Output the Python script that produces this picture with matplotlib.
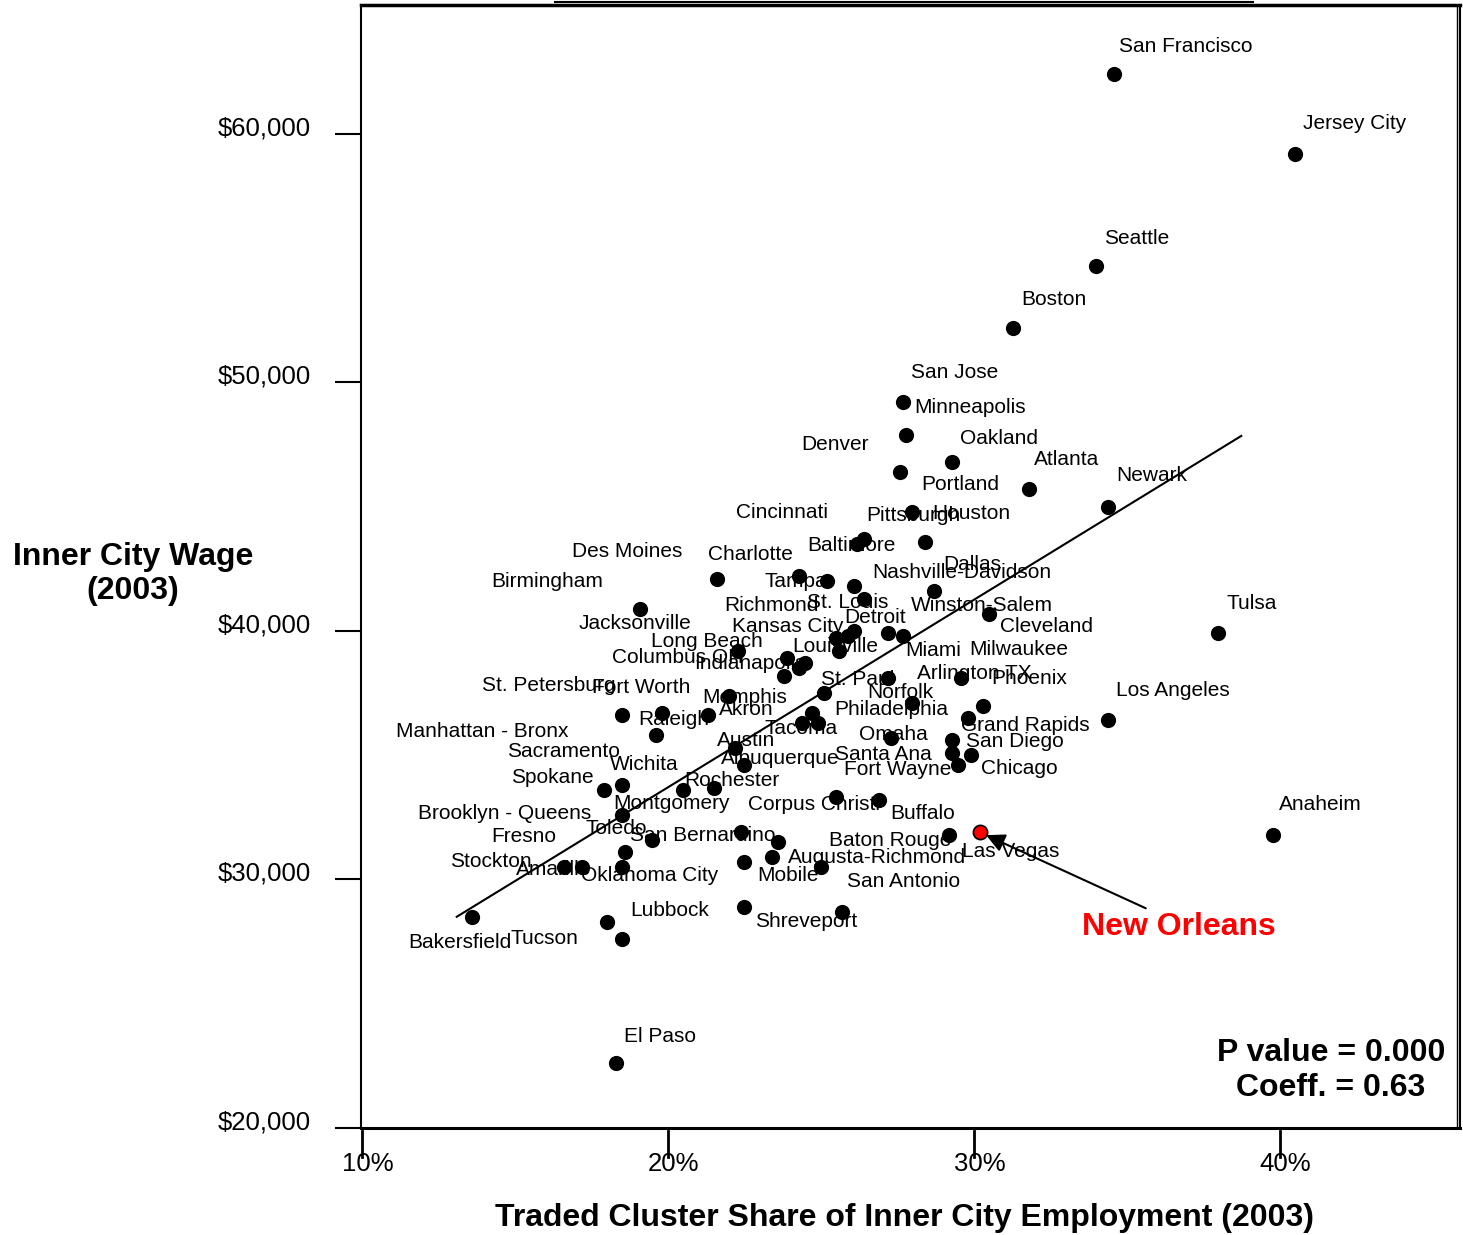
import matplotlib.pyplot as plt
from matplotlib.ticker import FuncFormatter, FixedLocator
from matplotlib.transforms import ScaledTranslation, blended_transform_factory
from matplotlib.lines import Line2D

plt.rcParams['font.family'] = ['Liberation Sans', 'DejaVu Sans']

# Inner city data (2003)
cities = [
    "San Francisco", "Jersey City", "Seattle", "Boston", "San Jose", "Minneapolis", "Denver", "Oakland", "Atlanta", "Portland",
    "Newark", "Houston", "Pittsburgh", "Cincinnati", "Baltimore", "Des Moines", "Birmingham", "Charlotte", "Tampa", "Dallas",
    "Nashville-Davidson", "St. Louis", "Richmond", "Winston-Salem", "Tulsa", "Detroit", "Cleveland", "Kansas City", "Long Beach", "Louisville",
    "Jacksonville", "Columbus OH", "Indianapolis", "Milwaukee", "Miami", "Norfolk", "Arlington TX", "Phoenix", "St. Paul", "Los Angeles",
    "Philadelphia", "Tacoma", "Memphis", "Akron", "St. Petersburg", "Fort Worth", "Raleigh", "Omaha", "Austin", "Albuquerque",
    "Grand Rapids", "San Diego", "Chicago", "Fort Wayne", "Santa Ana", "Manhattan - Bronx", "Sacramento", "Wichita", "Spokane", "Rochester",
    "Montgomery", "Brooklyn - Queens", "Toledo", "San Bernardino", "Fresno", "Stockton", "Amarillo", "Oklahoma City", "Lubbock", "Tucson",
    "Bakersfield", "El Paso", "Anaheim", "New Orleans", "Las Vegas", "Buffalo", "Corpus Christi", "Baton Rouge", "Augusta-Richmond", "Mobile",
    "San Antonio", "Shreveport",
]
traded_share = [
    34.6, 40.5, 34.0, 31.3, 27.7, 27.8, 27.6, 29.3, 31.8, 28.0,
    34.4, 28.4, 26.2, 26.4, 26.1, 21.6, 19.1, 25.2, 24.3, 28.7,
    26.4, 26.1, 25.9, 27.7, 38.0, 25.5, 30.5, 23.9, 24.3, 23.8,
    22.3, 24.5, 25.6, 29.6, 27.2, 27.2, 28.0, 30.3, 25.1, 34.4,
    24.7, 24.4, 22.0, 21.3, 18.5, 19.8, 19.6, 27.3, 22.2, 22.5,
    29.3, 29.5, 29.9, 29.3, 29.8, 24.9, 23.6, 18.5, 17.9, 21.5,
    20.5, 18.5, 19.5, 22.4, 18.6, 16.6, 17.2, 18.5, 18.5, 18.0,
    13.6, 18.3, 39.8, 30.2, 29.2, 26.9, 25.5, 25.0, 23.4, 22.5,
    25.7, 22.5,
]
wage = [
    62400, 59200, 54700, 52200, 49200, 47900, 46400, 46800, 45700, 44800,
    45000, 43600, 43500, 43700, 41800, 42100, 40900, 42000, 42200, 41600,
    41300, 40000, 39800, 39800, 39900, 39700, 40700, 38900, 38500, 38200,
    39200, 38700, 39200, 38100, 39900, 38100, 37100, 37000, 37500, 36400,
    36700, 36300, 37400, 36600, 36600, 36700, 35800, 35700, 35300, 34600,
    35100, 34600, 35000, 35600, 36500, 36300, 31500, 33800, 33600, 33700,
    33600, 32600, 31600, 31900, 31100, 30500, 30500, 30500, 27600, 28300,
    28500, 22600, 31800, 31900, 31800, 33200, 33300, 30500, 30900, 30700,
    28700, 28900,
]

# where each city name sits relative to its dot (pixels, left edge of text)
label_offsets = [
    (5, 28), (8, 30), (8, 27), (8, 28), (8, 30), (8, 27), (-99, 27), (8, 24), (5, 30), (9, 27),
    (8, 31), (8, 28), (9, 29), (-128, 27), (-47, 41), (-145, 27), (-149, 27), (-119, 27), (-35, -5), (9, 27),
    (9, 26), (-47, 28), (-124, 30), (8, 30), (8, 30), (8, 21), (11, -13), (-55, 32), (-148, 27), (8, 29),
    (-160, 27), (-193, 6), (-145, -13), (8, 29), (17, -17), (-21, -14), (5, 30), (8, 27), (-3, 14), (8, 30),
    (23, 3), (-38, -6), (-27, -2), (11, 6), (-140, 30), (-70, 25), (-17, 16), (-32, 3), (-18, 7), (-23, 7),
    (9, 27), (8, 24), (10, -13), (-108, -29), (-133, -37), (-422, -9), (-271, 91), (-12, 21), (-93, 13), (-29, 7),
    (-70, -13), (-204, 1), (-67, 11), (-111, -3), (-134, 16), (-114, 6), (-66, -2), (-41, -8), (8, 29), (-96, -17),
    (-64, -26), (8, 27), (6, 30), None, (13, -17), (11, -14), (-88, -7), (8, 27), (16, 0), (13, -13),
    (5, 30), (11, -15),
]

highlight = "New Orleans"
x_ticks = [10, 20, 30, 40]
y_ticks = [20000, 30000, 40000, 50000, 60000]

# fitted regression line end points
fit_share = [13.1, 38.75]
fit_wage = [28500, 47850]

fig = plt.figure(figsize=(14.63, 12.35), dpi=100)
ax = fig.add_axes([361 / 1463, 1 - 1128 / 1235, 1099 / 1463, 1123 / 1235])

ax.plot(fit_share, fit_wage, color='black', lw=1.5, zorder=2)

idx = cities.index(highlight)
xs = [x for i, x in enumerate(traded_share) if i != idx]
ys = [y for i, y in enumerate(wage) if i != idx]
ax.scatter(xs, ys, s=120, color='black', zorder=4, linewidths=0)
ax.scatter([traded_share[idx]], [wage[idx]], s=105, color='red',
           edgecolors='black', linewidths=1.2, zorder=5)

for name, x, y, off in zip(cities, traded_share, wage, label_offsets):
    if off is None:
        continue
    ax.annotate(name, (x, y), xytext=off, textcoords='offset pixels',
                ha='left', va='center', fontsize=15, zorder=3)

# highlighted city with arrow
ax.annotate("", (traded_share[idx], wage[idx]), xytext=(166, -76),
            textcoords='offset pixels',
            arrowprops=dict(arrowstyle='-|>', color='black', lw=1.5,
                            mutation_scale=28, shrinkA=0, shrinkB=5), zorder=6)
ax.annotate(highlight, (traded_share[idx], wage[idx]), xytext=(102, -95),
            textcoords='offset pixels', ha='left', va='center',
            fontsize=23, fontweight='bold', color='red')

ax.text(0.8826, 0.0512, "P value = 0.000\nCoeff. = 0.63", transform=ax.transAxes,
        ha='center', va='center', multialignment='center',
        fontsize=23, fontweight='bold')

ax.set_xlim(9.97, 45.9)
ax.set_ylim(20000, 65190)
ax.xaxis.set_major_locator(FixedLocator(x_ticks))
ax.yaxis.set_major_locator(FixedLocator(y_ticks))
ax.xaxis.set_major_formatter(FuncFormatter(lambda v, p: f"{v:.0f}%"))
ax.yaxis.set_major_formatter(FuncFormatter(lambda v, p: f"${v:,.0f}"))
ax.tick_params(axis='x', length=0, pad=17, labelsize=18.5)
ax.tick_params(axis='y', direction='out', length=19, width=1.5, pad=17, labelsize=18.5)

# x tick marks hang a little below the axis line, down into the labels
for v in x_ticks:
    px = ax.transData.transform((v, 20000))[0]
    fig.add_artist(Line2D([px / 1463, px / 1463], [1 - 1131 / 1235, 1 - 1157 / 1235],
                          color='black', lw=2.0))

for lab in ax.get_xticklabels():
    lab.set_transform(lab.get_transform() + ScaledTranslation(0.06, 0, fig.dpi_scale_trans))
for lab in ax.get_yticklabels():
    lab.set_transform(lab.get_transform() + ScaledTranslation(0, 0.08, fig.dpi_scale_trans))

for side in ['left', 'right']:
    ax.spines[side].set_linewidth(1.5)
ax.spines['top'].set_linewidth(2.5)
ax.spines['bottom'].set_linewidth(2.2)

# inner line of the double right border
ax.add_line(Line2D([0.9975, 0.9975], [0, 1], transform=ax.transAxes,
                   color='black', lw=1.0, clip_on=False))

fig.text(133 / 1463, 1 - 574 / 1235, "Inner City Wage\n(2003)", ha='center', va='center',
         fontsize=23, fontweight='bold')
fig.text(905 / 1463, 1 - 1218 / 1235, "Traded Cluster Share of Inner City Employment (2003)",
         ha='center', va='center', fontsize=23, fontweight='bold')

# leftover rule above the frame
fig.add_artist(Line2D([555 / 1463, 1253 / 1463], [1 - 1.5 / 1235] * 2, color='black', lw=1.5))

fig.savefig("out.png", dpi=100)
